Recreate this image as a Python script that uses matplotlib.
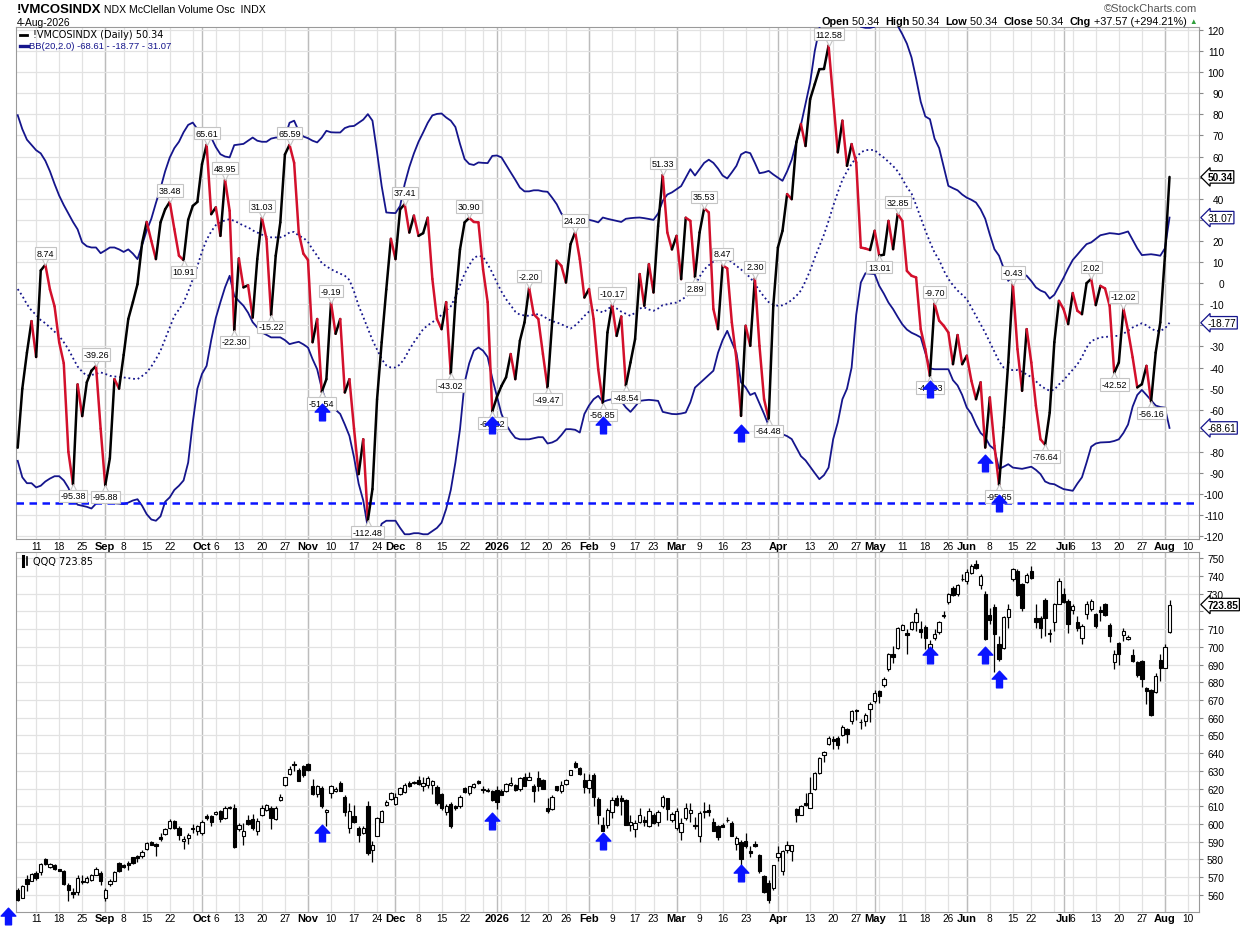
import numpy as np
import pandas as pd
import matplotlib
matplotlib.use("Agg")
import matplotlib.pyplot as plt
from matplotlib.collections import LineCollection
from matplotlib.lines import Line2D
from matplotlib.path import Path
from matplotlib.transforms import offset_copy

plt.rcParams['font.family'] = ['Liberation Sans', 'DejaVu Sans']

# ---------------- data (daily, 2025-08-05 .. 2026-08-04) ----------------
start, end = '2025-08-05', '2026-08-04'

osc = [
    -78, -50, -33, -18, -35, 6, 8.74, -3, -11, -28,
    -38, -80, -95.38, -48, -63, -47, -41.5, -39.26, -69, -95.88,
    -83, -45.5, -50, -34, -17, -9, -0.5, 19, 29, 20,
    11.4, 28.8, 35, 38.48, 25.6, 13, 10.91, 30, 36.6, 38.5,
    56.4, 65.61, 32.7, 35.9, 22.4, 48.95, 34.3, -22.30, 11.7, -2,
    -1, -16.3, 11.4, 31.03, 20.9, -15.22, 13, 28.8, 61, 65.59,
    57, 24, 14, 11, -28, -17, -51.54, -45.5, -9.19, -24,
    -17, -51.8, -45.5, -69, -90.5, -74, -112.48, -97.6, -55, -28,
    -3, 21, 11.4, 35, 37.41, 24, 32, 22.4, 23.7, 31,
    2, -17, -21.8, -9, -43.02, -9, 16, 28.8, 30.90, 29,
    28.8, 6.6, -9, -60.82, -54, -48.7, -44.6, -33.6, -45.5, -27.3,
    -18.6, -2.20, -14.7, -17, -33.6, -49.47, -18.6, 10.6, 8.2, 0.3,
    18.5, 24.20, 11.4, -6.8, -2.8, -17, -40.8, -56.85, -23.4, -10.17,
    -25, -15.8, -48.54, -37.6, -26.5, 4.3, -10.7, 9, -4.4, 27,
    51.33, 24, 16, 22.4, 1.9, 31, 29.5, 2.89, 24, 35.53,
    33.5, -12.3, -21.8, 8.47, 7, -18.6, -36, -62.9, -20.2, -29.7,
    2.30, -29.7, -55, -64.48, -10.7, 16.9, 24.8, 42.2, 39.8, 66.7,
    75.4, 65, 87.2, 94.3, 101.4, 101.5, 112.58, 87.2, 62, 77,
    55.6, 65.9, 57.2, 16.9, 16.4, 15.7, 24.8, 13.01, 13.5, 29.5,
    16.1, 32.85, 29.5, 5.8, 3.5, 2.7, -21.8, -31.3, -44.03, -9.70,
    -17.8, -20.2, -23.4, -38.4, -24.6, -38.4, -34.4, -46.3, -55, -47,
    -77.9, -54.2, -77.1, -95.65, -68.4, -37.6, -0.43, -31.3, -51, -21.8,
    -37.6, -58.1, -74, -76.64, -61.3, -28, -8.4, -12.3, -19.4, -4.7,
    -13.1, -14.7, 0, 2.02, -10.4, -1.3, -2.5, -10.7, -42.52, -37.6,
    -12.02, -22.6, -35.2, -49.4, -47.9, -39.2, -56.16, -32.9, -18.6, 12.77,
    50.34,
]

bb_upper = [
    79.6, 73, 68, 65.5, 63, 61.5, 58, 53, 47, 41.5,
    37, 33, 29, 25.5, 19.3, 17.5, 16.9, 16.9, 14.2, 15.5,
    16.9, 16.9, 16, 14.8, 16, 14, 11.4, 18, 25, 30.5,
    38, 45, 53, 59.5, 64, 67, 71.5, 75, 76.1, 73,
    73, 73.3, 69, 64.5, 61.1, 60, 59.6, 65.4, 65.7, 66,
    67.5, 69, 67.5, 67, 67, 68.5, 69, 69, 69, 76,
    77, 72, 69.5, 68.7, 67.5, 66.7, 69, 72.2, 71.5, 71.4,
    71.4, 73.5, 74.3, 74.5, 76, 77.5, 80.1, 77, 62, 46,
    33.5, 33.3, 33.2, 36.6, 47, 55, 61.5, 67, 71.4, 76,
    79.5, 80.2, 80.4, 78.5, 77, 74, 66, 58.8, 56.5, 56,
    57.2, 57, 56.9, 60.3, 60.5, 59.6, 56, 52.5, 49, 45.3,
    43.5, 43.5, 44, 44, 43.5, 43.3, 40.5, 37.4, 33, 30.6,
    30.7, 30.8, 30.6, 30.4, 30, 29.5, 28.8, 31.1, 30.5, 30,
    29.5, 29, 30.5, 30.8, 31, 31.1, 30.8, 30.4, 30, 33,
    39, 42, 43, 44.5, 46, 50, 54, 51, 54, 57,
    58.5, 57, 54.3, 51, 49.6, 52.5, 55.6, 61, 62.2, 61.6,
    57, 52.1, 52.5, 53.2, 51.5, 50, 48.5, 53, 58.5, 66.7,
    75, 85, 95.1, 110, 120.5, 137, 146, 147, 152, 153,
    156, 153, 134, 121.5, 121, 121, 121.5, 127, 128, 127,
    126, 122, 118, 113.5, 107, 97, 86, 79, 77.7, 68.5,
    64, 55, 46.1, 45, 44, 42, 40.5, 39.5, 38.2, 35,
    30.5, 23, 16.1, 13, 7, 1.1, 3.5, 5.1, 4.5, 3.5,
    1, -2, -3.5, -4.4, -7.3, -5.5, -1.5, 2.5, 7, 11,
    13.5, 16.1, 18.5, 19.3, 21, 22.7, 23.2, 23.7, 23.5, 23.2,
    23.8, 24.5, 20.5, 16.5, 13.3, 13.5, 13.7, 13.4, 13, 16.5,
    31.07,
]

bb_middle = [
    -2.8, -6, -10, -13, -15, -17.5, -19, -21, -23, -25,
    -28, -31.3, -35.5, -39.5, -42, -43.9, -43.5, -43, -42.3, -43,
    -43.9, -44.2, -44.5, -44.7, -45, -45.3, -45.5, -44, -42.3, -39.5,
    -36, -32, -26.5, -21, -15.5, -12.5, -9.2, -4, 1.9, 8,
    15, 20.5, 24.5, 27.5, 28.8, 29.8, 30.3, 29.5, 28.5, 27.2,
    26.5, 25, 24, 23, 22, 21.7, 21.7, 21.7, 22.5, 24,
    24.3, 22.5, 21.5, 19.5, 16, 13, 9.5, 8, 6.6, 5.5,
    4.5, 3.5, 1.5, -4, -10.7, -16, -21.5, -27, -31.5, -36,
    -39, -40, -40, -38.5, -35.5, -31.5, -28, -25, -21.8, -20,
    -18.5, -17, -15, -13, -11, -6.5, -1, 4.5, 8.5, 12,
    13, 12.5, 9, 5, 0.3, -4, -7.6, -10.5, -13.5, -15,
    -15.3, -15.5, -15, -14.7, -15.5, -17, -18, -18.6, -19.5, -20.5,
    -21.5, -20, -18, -15.5, -13.5, -12.5, -13, -13.9, -12.5, -10.7,
    -12, -13.5, -14.5, -15.5, -14, -12, -11.5, -12.5, -13.1, -12,
    -10.4, -10, -9.5, -9.2, -8, -6.5, -4.4, -1, 3, 6.5,
    8.5, 10.2, 11, 11.4, 11.4, 10, 8.2, 6.5, 4.5, 2.7,
    -0.5, -3.5, -6.5, -9, -10.2, -10.7, -10.5, -9.5, -8, -6,
    -3.5, 1, 6, 12, 17.5, 23, 29.5, 36.6, 43, 49,
    53, 56.5, 59.5, 62, 63, 63.2, 63, 61.1, 59.5, 57.5,
    55.5, 53, 49.5, 45.5, 42.5, 37, 31, 25, 19.5, 14.5,
    11, 6, 2, -1, -3.5, -5.5, -7.6, -11.5, -15.5, -19.5,
    -23.5, -28, -32.5, -37, -40, -41, -41.2, -41.2, -42, -43.3,
    -44.5, -46.5, -48.5, -50, -51, -50.5, -48, -46, -43.5, -41,
    -38.5, -35, -30.5, -27.5, -26.5, -25.7, -25.5, -25.3, -25, -25,
    -24, -22.5, -21, -20, -19, -20, -21.5, -22.6, -22.6, -21.5,
    -18.77,
]

bb_lower = [
    -84.2, -92, -94.8, -94.8, -96.8, -96, -94, -92.6, -91.5, -91.5,
    -93.5, -97, -102.5, -105, -105.5, -106, -106.8, -104.5, -103.8, -103.6,
    -104, -104.3, -104.5, -104.7, -104, -103, -102.4, -105.5, -109.5, -112,
    -112.6, -110.5, -103.6, -101.5, -98, -96, -93.5, -85, -66, -50,
    -43, -39.2, -27, -16.5, -9, -2, 3.5, -6, -8.5, -10.7,
    -14, -18.5, -21, -23.4, -24.5, -25.7, -25.7, -25.7, -27, -28.9,
    -28.3, -27.8, -29, -30.5, -36, -40.8, -50, -56.5, -58, -60,
    -62, -67, -72.4, -82.6, -95, -103, -116, -121, -121, -114,
    -112.6, -112.6, -112.6, -116, -119, -119, -118.5, -118.5, -119, -119,
    -117.5, -116, -113.5, -107, -98, -85, -69.2, -47.1, -38, -32,
    -30.5, -32, -35, -45, -53.4, -62, -67, -70.5, -73.3, -74,
    -74, -74, -73.5, -73, -73, -76, -75.5, -74.4, -72, -69.2,
    -69.2, -69.5, -70.8, -62, -58, -55, -53.4, -56.3, -55.5, -55,
    -54.5, -56, -58.9, -61, -58.5, -55.8, -55.5, -55.3, -55.5, -55.8,
    -61, -61.5, -62, -62.1, -61.8, -61.3, -56.5, -49.5, -47.5, -45.5,
    -43.5, -41.5, -33, -27, -22.6, -28, -33, -47, -49.4, -53,
    -52, -57, -62, -67.5, -69.5, -70.5, -71.6, -72.5, -73.9, -78,
    -82, -84, -87, -90, -92.9, -91, -87.4, -73.9, -66, -55,
    -50, -40, -15, 0.3, 4.7, 4.5, 4.3, -1.3, -5, -9.2,
    -12.3, -16, -19.5, -22, -23.5, -24.5, -25.7, -33, -40.4, -40.8,
    -40.8, -40.8, -40.8, -46, -48.5, -53, -59, -62, -67, -71,
    -73, -77, -78.7, -88, -87, -85.8, -87.4, -87.7, -88, -87.5,
    -87, -88.5, -90.5, -94, -95, -95.3, -96.5, -97.6, -98, -98.4,
    -95, -92, -85, -77.5, -76, -75.5, -75.4, -75.3, -74.8, -74,
    -71, -67, -58.5, -53, -50.6, -53, -55.5, -58, -58.7, -59,
    -68.61,
]

qqq_open = [
    562.9, 558.5, 568.9, 568, 572.3, 572.7, 580.2, 575.5, 577, 574.5,
    573.6, 565.7, 561.6, 561.6, 568, 567.2, 568.5, 571.3, 572.3, 558.2,
    566.1, 568, 577.9, 576.6, 577.9, 581.1, 581.7, 581.7, 585.8, 589.8,
    588.6, 592.4, 594.5, 597.7, 601.9, 597.7, 590.2, 592, 597.7, 595.8,
    594.9, 604.6, 604.3, 605.6, 607.1, 603.3, 609.5, 609.3, 597.3, 593.5,
    602.4, 602.9, 595.8, 605.2, 608, 609, 602.9, 613.7, 622.1, 628.1,
    634, 630.6, 632.5, 633.8, 621.2, 616.9, 620.2, 606.7, 617.4, 618.7,
    623.1, 615.5, 597.7, 604.3, 597.7, 594.9, 609.9, 585.4, 593.5, 601.4,
    610.5, 614.2, 611.2, 617, 618, 623.1, 622.9, 625, 621.2, 622.1,
    622.1, 620.6, 616.9, 606.7, 611.2, 609.9, 609.9, 620.2, 617.4, 620.6,
    624, 619.7, 619.3, 618.4, 619.3, 618.7, 618.4, 621.8, 622.1, 619.9,
    626.3, 625, 621.2, 625.9, 625, 609.3, 608.4, 621.2, 618.4, 622.7,
    627.8, 634.7, 631.5, 625, 620.2, 627.4, 614.2, 599.2, 599.2, 606.7,
    614.6, 614.6, 613.3, 599.2, 597.1, 601.1, 602, 598.6, 605.2, 601.4,
    609.9, 614.6, 602, 597.7, 595.4, 603.3, 606.1, 599.2, 593, 606.5,
    608, 601.4, 598.6, 599.2, 602.4, 600.5, 588.6, 589.8, 590.2, 584.9,
    588.6, 582.6, 570.4, 566.6, 563.8, 581.1, 573.2, 585.4, 584.9, 608.6,
    605.2, 611.8, 609.3, 619.9, 628.7, 638.7, 645.3, 647.9, 648.5, 650,
    653.5, 658.4, 664.4, 657.6, 658.4, 665, 669.2, 674.8, 678.2, 687.4,
    696.1, 699.5, 709.3, 707.9, 709.8, 714.2, 709.8, 711.1, 699.1, 704.7,
    708.5, 717.4, 725.5, 733, 730, 738, 737.1, 741.8, 746.9, 734.9,
    729.6, 717.9, 722.6, 701.4, 699.1, 716.8, 738.1, 742.8, 735.2, 736.8,
    742.8, 716, 716, 726.2, 707.6, 714.2, 724.3, 729.6, 725.8, 720.6,
    714.2, 705.1, 718.7, 721.1, 718.3, 720.6, 724.3, 712.3, 691.6, 702.3,
    706.6, 704.2, 695.3, 691.6, 692, 676.5, 675.4, 674.6, 692.3, 688.2,
    708.5,
]

qqq_high = [
    563.8, 565.5, 571, 572.3, 573.2, 577.9, 580.7, 578, 577.4, 574.8,
    574.2, 566.6, 563.8, 571.3, 571, 570.5, 572, 576, 573.2, 563.8,
    568.9, 573.2, 578.5, 577.4, 579.2, 581.5, 582.6, 585.4, 589.8, 590.2,
    589.2, 594.9, 597.7, 602.8, 602.4, 598.6, 593, 594.9, 599.9, 599.2,
    602.4, 605.6, 605.2, 607.5, 608, 609.9, 609.9, 611.2, 600.5, 600.5,
    604.8, 605.6, 603.3, 610.5, 611.2, 609.9, 609.9, 616.9, 626.8, 632.5,
    635.3, 631.5, 633.4, 634.7, 625.4, 622.1, 621.2, 608.4, 622.1, 620.6,
    624, 616.5, 611.8, 610.9, 598.6, 598.6, 612.7, 590.2, 603.7, 608,
    613.3, 618, 617.4, 620.6, 623.1, 624, 624, 627.2, 626.8, 627.2,
    625, 622.1, 617.4, 611.2, 612.2, 610.5, 616.1, 620.6, 621.6, 623.1,
    625, 621.2, 620.2, 619.3, 621.6, 619.9, 623.1, 626.8, 622.5, 626.3,
    628.7, 629.1, 622.5, 629.7, 625.4, 614.6, 616.5, 621.6, 624.2, 625.4,
    630.6, 635.3, 632, 628.7, 628.3, 629, 615, 603.7, 609, 615.5,
    616.1, 616.1, 614, 605, 602.4, 609, 604.3, 609, 606, 608,
    616.1, 614.6, 606.5, 609, 603.3, 611.8, 611.8, 603.7, 607.1, 612.2,
    611.2, 603.3, 599.6, 600.5, 603.7, 601.9, 593, 591.1, 594.9, 587.3,
    590.2, 583, 571, 568.5, 577, 587.3, 585.4, 590.2, 588.3, 609,
    610.5, 617.4, 626.3, 629.3, 637.6, 641.3, 649.9, 649.4, 649.4, 655.6,
    654, 664.4, 664.9, 659, 662.6, 669.1, 675.7, 675.7, 682.8, 696.5,
    700.4, 711.1, 713, 709.8, 714.6, 721.7, 714.6, 712.5, 703.6, 709.8,
    714.6, 720.2, 730.5, 734.3, 735.6, 740.9, 743.7, 746.5, 748.8, 740.9,
    731.5, 722.1, 724, 706.1, 717.4, 723.9, 744.7, 743.7, 736.2, 741.8,
    745.6, 723.9, 717.4, 727.7, 709.8, 724.9, 738.6, 733.4, 726.8, 724,
    717.4, 712.7, 725.8, 726.8, 719.2, 723, 724.9, 713.6, 698, 702.8,
    710.4, 706.6, 698.5, 692, 692.3, 677.3, 676, 685.4, 696.1, 701.7,
    726.2,
]

qqq_low = [
    556.3, 558, 562.3, 567.6, 568.5, 571, 577, 575, 574, 573.2,
    565.7, 556.3, 558.5, 560.1, 566, 566.6, 568, 571, 565.7, 556.3,
    564.8, 567.6, 572.8, 575, 574.2, 577.4, 578.5, 580.7, 585.4, 587.9,
    581.7, 590.2, 594, 597.3, 597.3, 591.1, 586, 588.6, 594.9, 593.9,
    593.9, 602.4, 598.6, 605.2, 601.4, 602.9, 608.6, 586.4, 595.8, 587.9,
    599.2, 596.7, 593.9, 604.6, 607.1, 597.3, 602.4, 612.7, 621.6, 627.8,
    629.7, 624, 626.8, 629.7, 616.5, 615.5, 609, 598.6, 614.8, 617.9,
    618.4, 604.3, 594.9, 600.5, 589.8, 594.5, 582.6, 578.5, 593, 601,
    610, 613.7, 610.5, 616.5, 617.4, 620.6, 622.5, 622, 618.7, 620.2,
    616.9, 610.9, 608, 605.2, 598, 608, 609.3, 617.4, 616.5, 620.2,
    622.5, 617.4, 617.9, 612.7, 608.6, 616.1, 618, 621.2, 618.7, 618.4,
    621.2, 624.6, 612.2, 618.7, 619.5, 606.1, 608, 618.7, 617.4, 622.1,
    627.4, 631.5, 627.8, 617.4, 617.4, 610, 600, 595.8, 597.7, 603.3,
    609.9, 605.2, 599.2, 595.8, 592.4, 600.5, 598.6, 598.1, 600, 598.6,
    609.3, 602.4, 601.4, 596.7, 590.9, 602.4, 601.1, 597.3, 589.8, 603.3,
    604.3, 595.8, 591.1, 598.1, 601.1, 593, 585.4, 577, 586.4, 581.1,
    586.8, 572.3, 561, 555.3, 562.9, 578.9, 571.3, 583.6, 578.9, 601.4,
    604.8, 609.9, 609, 619.4, 628.1, 635, 644.7, 642.5, 642.5, 649.4,
    645.8, 656.2, 658.8, 653.8, 655.4, 657.6, 668.4, 668.4, 677.1, 686.4,
    691, 698.9, 709.3, 696.1, 709.3, 708.9, 705.1, 698.5, 698.9, 703.6,
    707, 716.1, 724, 728.7, 728.7, 737.1, 735.6, 741.3, 743.7, 732.4,
    703.6, 712.7, 685.9, 691.9, 698.5, 710.4, 737.1, 728.7, 720.2, 736.2,
    738.1, 710.4, 704.7, 706.1, 702.9, 708.9, 724, 724.9, 707.9, 718.3,
    708.9, 701.4, 715.5, 720.2, 710.8, 714.6, 717.4, 702.9, 687.2, 690,
    703.2, 703.6, 691.6, 682.9, 677.3, 667.8, 660.8, 674, 680.6, 687.8,
    708,
]

qqq_close = [
    557.2, 564.8, 566.3, 571.7, 569.5, 577.4, 577.4, 577.4, 574.5, 573.6,
    566, 562.9, 560.4, 569.5, 567.2, 569.8, 571.3, 574.5, 567.6, 562.9,
    568, 572.7, 573.2, 575.5, 576.9, 577.9, 580.7, 584.1, 589, 588.3,
    587.3, 591.7, 597.3, 601.9, 598, 594, 591.7, 593.9, 596.9, 598.6,
    601.4, 603.3, 601.4, 606.7, 602.8, 609.3, 609, 587, 599.6, 595.8,
    599.9, 597.7, 601.8, 609.3, 610.5, 603.3, 609, 615.5, 626.3, 631,
    633.4, 624, 627.8, 630.2, 616.9, 621.2, 609.9, 608, 621.2, 619.9,
    618.7, 606.7, 607.1, 601.4, 593.9, 598, 583.6, 587.9, 603.3, 607.5,
    612.4, 617.4, 615, 620.2, 621.8, 621.2, 623.6, 622.5, 623.1, 625.9,
    624, 611.8, 609, 609.9, 598.6, 608.8, 615, 618, 621.2, 622.7,
    623.1, 619, 618.4, 613.3, 612.3, 616.5, 622.5, 623.1, 619.3, 625.9,
    621.6, 626.5, 618.4, 621.2, 619.9, 607.5, 615, 619.3, 621.8, 625,
    630.2, 631.9, 628.1, 620.6, 625, 615.5, 604.8, 595.8, 608, 613.3,
    610.5, 612.7, 599.2, 600.9, 600.5, 604.8, 601.4, 607.5, 600.5, 606.5,
    615.5, 608.4, 605.8, 607.1, 600.5, 609.3, 608, 598.6, 606.1, 607.1,
    606.7, 595.8, 592.4, 598.5, 602, 593.5, 592, 580.4, 587.3, 583.6,
    587.3, 573.2, 561.9, 557.2, 576.6, 583.9, 584.5, 587.9, 587.9, 605.2,
    609.9, 610.5, 617.4, 628.7, 637.2, 640.6, 648.8, 646.6, 644.3, 655,
    650.7, 663.5, 664, 657.3, 661.3, 667.6, 674.2, 672.5, 682, 695.9,
    694.2, 710.4, 712.3, 706.6, 714.2, 719.2, 708.5, 705.1, 701.4, 707,
    714.2, 717.6, 730, 729.2, 734.9, 738.1, 742.4, 745.6, 744.3, 740,
    704.2, 714.9, 707.4, 692.9, 716.8, 721.1, 743.7, 729.2, 722.1, 740.5,
    738.6, 714.2, 710.4, 716.4, 707.2, 724.3, 737.1, 725.5, 713, 723,
    710.4, 711.7, 724, 725.8, 711.7, 719.8, 717.9, 706.1, 695.7, 696.1,
    708.9, 705.7, 691.9, 684, 682.1, 675, 661.4, 683.5, 688.2, 699.9,
    723.85,
]

# labelled swing points of the oscillator
peaks = ['2025-08-13', '2025-08-28', '2025-09-22', '2025-10-02', '2025-10-08', '2025-10-20',
         '2025-10-28', '2025-11-10', '2025-12-03', '2025-12-23', '2026-01-13', '2026-01-28',
         '2026-02-09', '2026-02-25', '2026-03-10', '2026-03-16', '2026-03-25', '2026-04-17',
         '2026-05-08', '2026-05-20', '2026-06-15', '2026-07-10', '2026-07-21']
troughs = ['2025-08-21', '2025-09-02', '2025-09-25', '2025-10-10', '2025-10-22', '2025-11-06',
           '2025-11-20', '2025-12-17', '2025-12-31', '2026-01-20', '2026-02-05', '2026-02-12',
           '2026-03-06', '2026-03-30', '2026-05-04', '2026-05-19', '2026-06-10', '2026-06-25',
           '2026-07-17', '2026-07-29']

# buy-signal arrows
signal_dates = ['2025-11-06', '2025-12-31', '2026-02-05', '2026-03-20', '2026-05-19', '2026-06-05', '2026-06-10']
signal_osc = [-61, -67, -67, -71, -50, -85, -104]
signal_qqq = [594.9, 601.8, 590.2, 572.3, 695.5, 695.5, 681.8]
early_signal = ('2025-08-01', 548)
oversold = -104

tick_marks = [('2025-08-11', '11'), ('2025-08-18', '18'), ('2025-08-25', '25'), ('2025-09-02', 'Sep'),
              ('2025-09-08', '8'), ('2025-09-15', '15'), ('2025-09-22', '22'), ('2025-10-01', 'Oct'),
              ('2025-10-06', '6'), ('2025-10-13', '13'), ('2025-10-20', '20'), ('2025-10-27', '27'),
              ('2025-11-03', 'Nov'), ('2025-11-10', '10'), ('2025-11-17', '17'), ('2025-11-24', '24'),
              ('2025-12-01', 'Dec'), ('2025-12-08', '8'), ('2025-12-15', '15'), ('2025-12-22', '22'),
              ('2026-01-02', '2026'), ('2026-01-12', '12'), ('2026-01-20', '20'), ('2026-01-26', '26'),
              ('2026-02-02', 'Feb'), ('2026-02-09', '9'), ('2026-02-17', '17'), ('2026-02-23', '23'),
              ('2026-03-02', 'Mar'), ('2026-03-09', '9'), ('2026-03-16', '16'), ('2026-03-23', '23'),
              ('2026-04-01', 'Apr'), ('2026-04-13', '13'), ('2026-04-20', '20'), ('2026-04-27', '27'),
              ('2026-05-01', 'May'), ('2026-05-11', '11'), ('2026-05-18', '18'), ('2026-05-26', '26'),
              ('2026-06-01', 'Jun'), ('2026-06-08', '8'), ('2026-06-15', '15'), ('2026-06-22', '22'),
              ('2026-07-01', 'Jul'), ('2026-07-06', '6'), ('2026-07-13', '13'), ('2026-07-20', '20'),
              ('2026-07-27', '27'), ('2026-08-03', 'Aug'), ('2026-08-10', '10')]

holidays = ['2025-09-01', '2025-11-27', '2025-12-25', '2026-01-01', '2026-01-19', '2026-02-16',
            '2026-04-03', '2026-05-25', '2026-06-19', '2026-07-03']

# ---------------- trading-day axis ----------------
cal = pd.bdate_range('2025-08-01', '2026-08-14')
cal = cal[~cal.isin(pd.to_datetime(holidays))]
pos = pd.Series(np.arange(len(cal)), index=cal)
dates = cal[(cal >= start) & (cal <= end)]
x = pos[dates].values
P = lambda d: pos[pd.Timestamp(d)]

cs = pd.Series(cal, index=cal)
week_firsts = cs.groupby(cal.to_period('W')).first().values
month_firsts = cs.groupby(cal.to_period('M')).first().values

osc = np.array(osc)
osc_s = pd.Series(osc, index=dates)
o, h, l, c = map(np.array, (qqq_open, qqq_high, qqq_low, qqq_close))

NAVY = '#15158c'
RED = '#d3102c'
BLUE = '#0a14ff'
W, H = 1240.0, 928.0

fig = plt.figure(figsize=(12.4, 9.28), dpi=100)


def box(left, top, right, bottom):
    return [left / W, 1 - bottom / H, (right - left) / W, (bottom - top) / H]


ax1 = fig.add_axes(box(16, 28.3, 1199, 540))
ax2 = fig.add_axes(box(16, 553, 1199, 912.7))


def frame(ax, ymin, ymax, hidden):
    ax.set_xlim(P(start) - 0.37, P(end) + 6.4)
    ax.set_ylim(ymin, ymax)
    for d in week_firsts:
        ax.axvline(pos[d], color='#e2e2e2', lw=0.9, zorder=0)
    for d in month_firsts:
        ax.axvline(pos[d], color='#bcbcbc', lw=1.0, zorder=0)
    yt = np.arange(np.ceil(ymin / 10) * 10, ymax + 0.1, 10)
    for v in yt:
        ax.axhline(v, color='#e2e2e2', lw=0.9, zorder=0)
    ax.yaxis.tick_right()
    ax.set_yticks(yt)
    ax.set_yticklabels(['' if int(v) in hidden else str(int(v)) for v in yt])
    for t in ax.get_yticklabels():
        t.set_ha('right')
    ax.tick_params(axis='y', length=3, color='#888888', labelsize=7.3, pad=15)
    ax.set_xticks([P(d) for d, _ in tick_marks])
    ax.set_xticklabels([s for _, s in tick_marks])
    for t, (_, s) in zip(ax.get_xticklabels(), tick_marks):
        if not s.isdigit() or s == '2026':
            t.set_fontweight('bold')
            t.set_fontsize(8)
        else:
            t.set_fontsize(7.3)
    ax.tick_params(axis='x', length=0, pad=1.2)
    for sp in ax.spines.values():
        sp.set_color('#9a9a9a')
        sp.set_linewidth(0.8)


frame(ax1, -121.25, 121.25, (50, 30, -20, -70))
frame(ax2, 550.5, 753.5, (720,))

# ---------------- oscillator panel ----------------
ax1.plot(x, bb_upper, color=NAVY, lw=1.3, zorder=3)
ax1.plot(x, bb_lower, color=NAVY, lw=1.3, zorder=3)
ax1.plot(x, bb_middle, color=NAVY, lw=1.3, ls=(0, (1, 1.6)), zorder=3)
ax1.axhline(oversold, color=BLUE, lw=1.8, ls=(0, (3, 2.2)), zorder=3)

pts = np.column_stack([x, osc])
segs = np.stack([pts[:-1], pts[1:]], axis=1)
cols = ['black' if b >= a else RED for a, b in zip(osc[:-1], osc[1:])]
ax1.add_collection(LineCollection(segs, colors=cols, linewidths=1.8, zorder=4, capstyle='round'))

lab_kw = dict(fontsize=6.5, ha='center', va='center', zorder=6, textcoords='offset points',
              bbox=dict(boxstyle='square,pad=0.18', fc='white', ec='#c4c4c4', lw=0.8))
for dl, up in [(peaks, True), (troughs, False)]:
    for d in dl:
        xi, v = P(d), osc_s[pd.Timestamp(d)]
        sh = 3.5 if up else -3.5
        ax1.plot(xi, v, marker='v' if up else '^', ms=5.5, mfc='white', mec='#c4c4c4', mew=0.8,
                 transform=offset_copy(ax1.transData, fig, y=sh, units='dots'), zorder=5)
        ax1.annotate(f'{v:.2f}', (xi, v), xytext=(0, 8.3 if up else -8.3), **lab_kw)

arrow = Path([(0, 1), (0.88, 0.05), (0.36, 0.05), (0.36, -1), (-0.36, -1), (-0.36, 0.05),
              (-0.88, 0.05), (0, 1)], closed=True)
sx = [P(d) for d in signal_dates]
ax1.plot(sx, signal_osc, ls='none', marker=arrow, ms=12, color=BLUE, zorder=7)

# ---------------- QQQ panel ----------------
ax2.vlines(x, l, h, color='black', lw=0.9, zorder=2)
up_day = c >= o
ax2.bar(x, np.maximum(np.abs(c - o), 0.35), bottom=np.minimum(o, c), width=0.72,
        color=np.where(up_day, 'white', 'black'), edgecolor='black', linewidth=0.8, zorder=3)
ax2.plot(sx, signal_qqq, ls='none', marker=arrow, ms=12, color=BLUE, zorder=7)
ax2.plot(P(early_signal[0]), early_signal[1], ls='none', marker=arrow, ms=12, color=BLUE,
         zorder=7, clip_on=False)


def tag(ax, v, s, ec, bold=False):
    ax.annotate(s, xy=(1, v), xycoords=ax.get_yaxis_transform(), xytext=(6, 0),
                textcoords='offset points', ha='left', va='center', fontsize=7.3,
                fontweight='bold' if bold else 'normal', color='black', zorder=10,
                bbox=dict(boxstyle='larrow,pad=0.12', fc='white', ec=ec, lw=0.9),
                annotation_clip=False)


tag(ax1, osc[-1], f'{osc[-1]:.2f}', 'black', bold=True)
tag(ax1, bb_upper[-1], f'{bb_upper[-1]:.2f}', NAVY)
tag(ax1, bb_middle[-1], f'{bb_middle[-1]:.2f}', NAVY)
tag(ax1, bb_lower[-1], f'{bb_lower[-1]:.2f}', NAVY)
tag(ax2, c[-1], f'{c[-1]:.2f}', 'black', bold=True)

# ---------------- header texts ----------------
rend = fig.canvas.get_renderer()


def run(xp, yp, parts, size, **kw):
    for s, weight, col in parts:
        t = fig.text(xp / W, 1 - yp / H, s, fontsize=size, fontweight=weight, color=col,
                     va='center', ha='left', **kw)
        xp += t.get_window_extent(rend).width
    return xp


run(17, 10, [('!VMCOSINDX', 'bold', 'black'), (' NDX McClellan Volume Osc  INDX', 'normal', 'black')], 9.5)
fig.texts[-1].set_fontsize(7.6)
fig.text(17 / W, 1 - 23 / H, '4-Aug-2026', fontsize=7.4, va='center', ha='left')
fig.text(1197 / W, 1 - 9 / H, '\u00a9StockCharts.com', fontsize=8, color='#555555', va='center', ha='right')

last = f'{osc[-1]:.2f}'
chg = osc[-1] - osc[-2]
pct = chg / abs(osc[-2]) * 100
xe = run(821, 22, [('Open', 'bold', 'black'), (f' {last}  ', 'normal', 'black'),
                   ('High', 'bold', 'black'), (f' {last}  ', 'normal', 'black'),
                   ('Low', 'bold', 'black'), (f' {last}  ', 'normal', 'black'),
                   ('Close', 'bold', 'black'), (f' {last}  ', 'normal', 'black'),
                   ('Chg', 'bold', 'black'), (f' {chg:+.2f} ({pct:+.2f}%)', 'normal', 'black')], 7.8)
fig.text((xe + 3) / W, 1 - 22 / H, '\u25b2', fontsize=5.5, color='#2e9e3a', va='center', ha='left')

fig.add_artist(Line2D([20 / W, 27 / W], [1 - 35.5 / H] * 2, color='black', lw=2))
fig.text(33 / W, 1 - 35.5 / H, f'!VMCOSINDX (Daily) {last}', fontsize=7, va='center', ha='left',
         family='DejaVu Sans')
fig.add_artist(Line2D([20 / W, 28 / W], [1 - 46.5 / H] * 2, color=NAVY, lw=2.4))
fig.text(29 / W, 1 - 46.5 / H,
         f'BB(20,2.0) {bb_lower[-1]:.2f} - {bb_middle[-1]:.2f} - {bb_upper[-1]:.2f}',
         fontsize=6.8, color=NAVY, va='center', ha='left')

fig.add_artist(Line2D([23 / W, 23 / W], [1 - 557 / H, 1 - 567 / H], color='black', lw=2.2))
fig.add_artist(Line2D([27 / W, 27 / W], [1 - 558 / H, 1 - 566 / H], color='black', lw=1.2))
fig.text(33 / W, 1 - 562 / H, f'QQQ {c[-1]:.2f}', fontsize=7, va='center', ha='left',
         family='DejaVu Sans')

fig.savefig('out.png', dpi=100, facecolor='white')
